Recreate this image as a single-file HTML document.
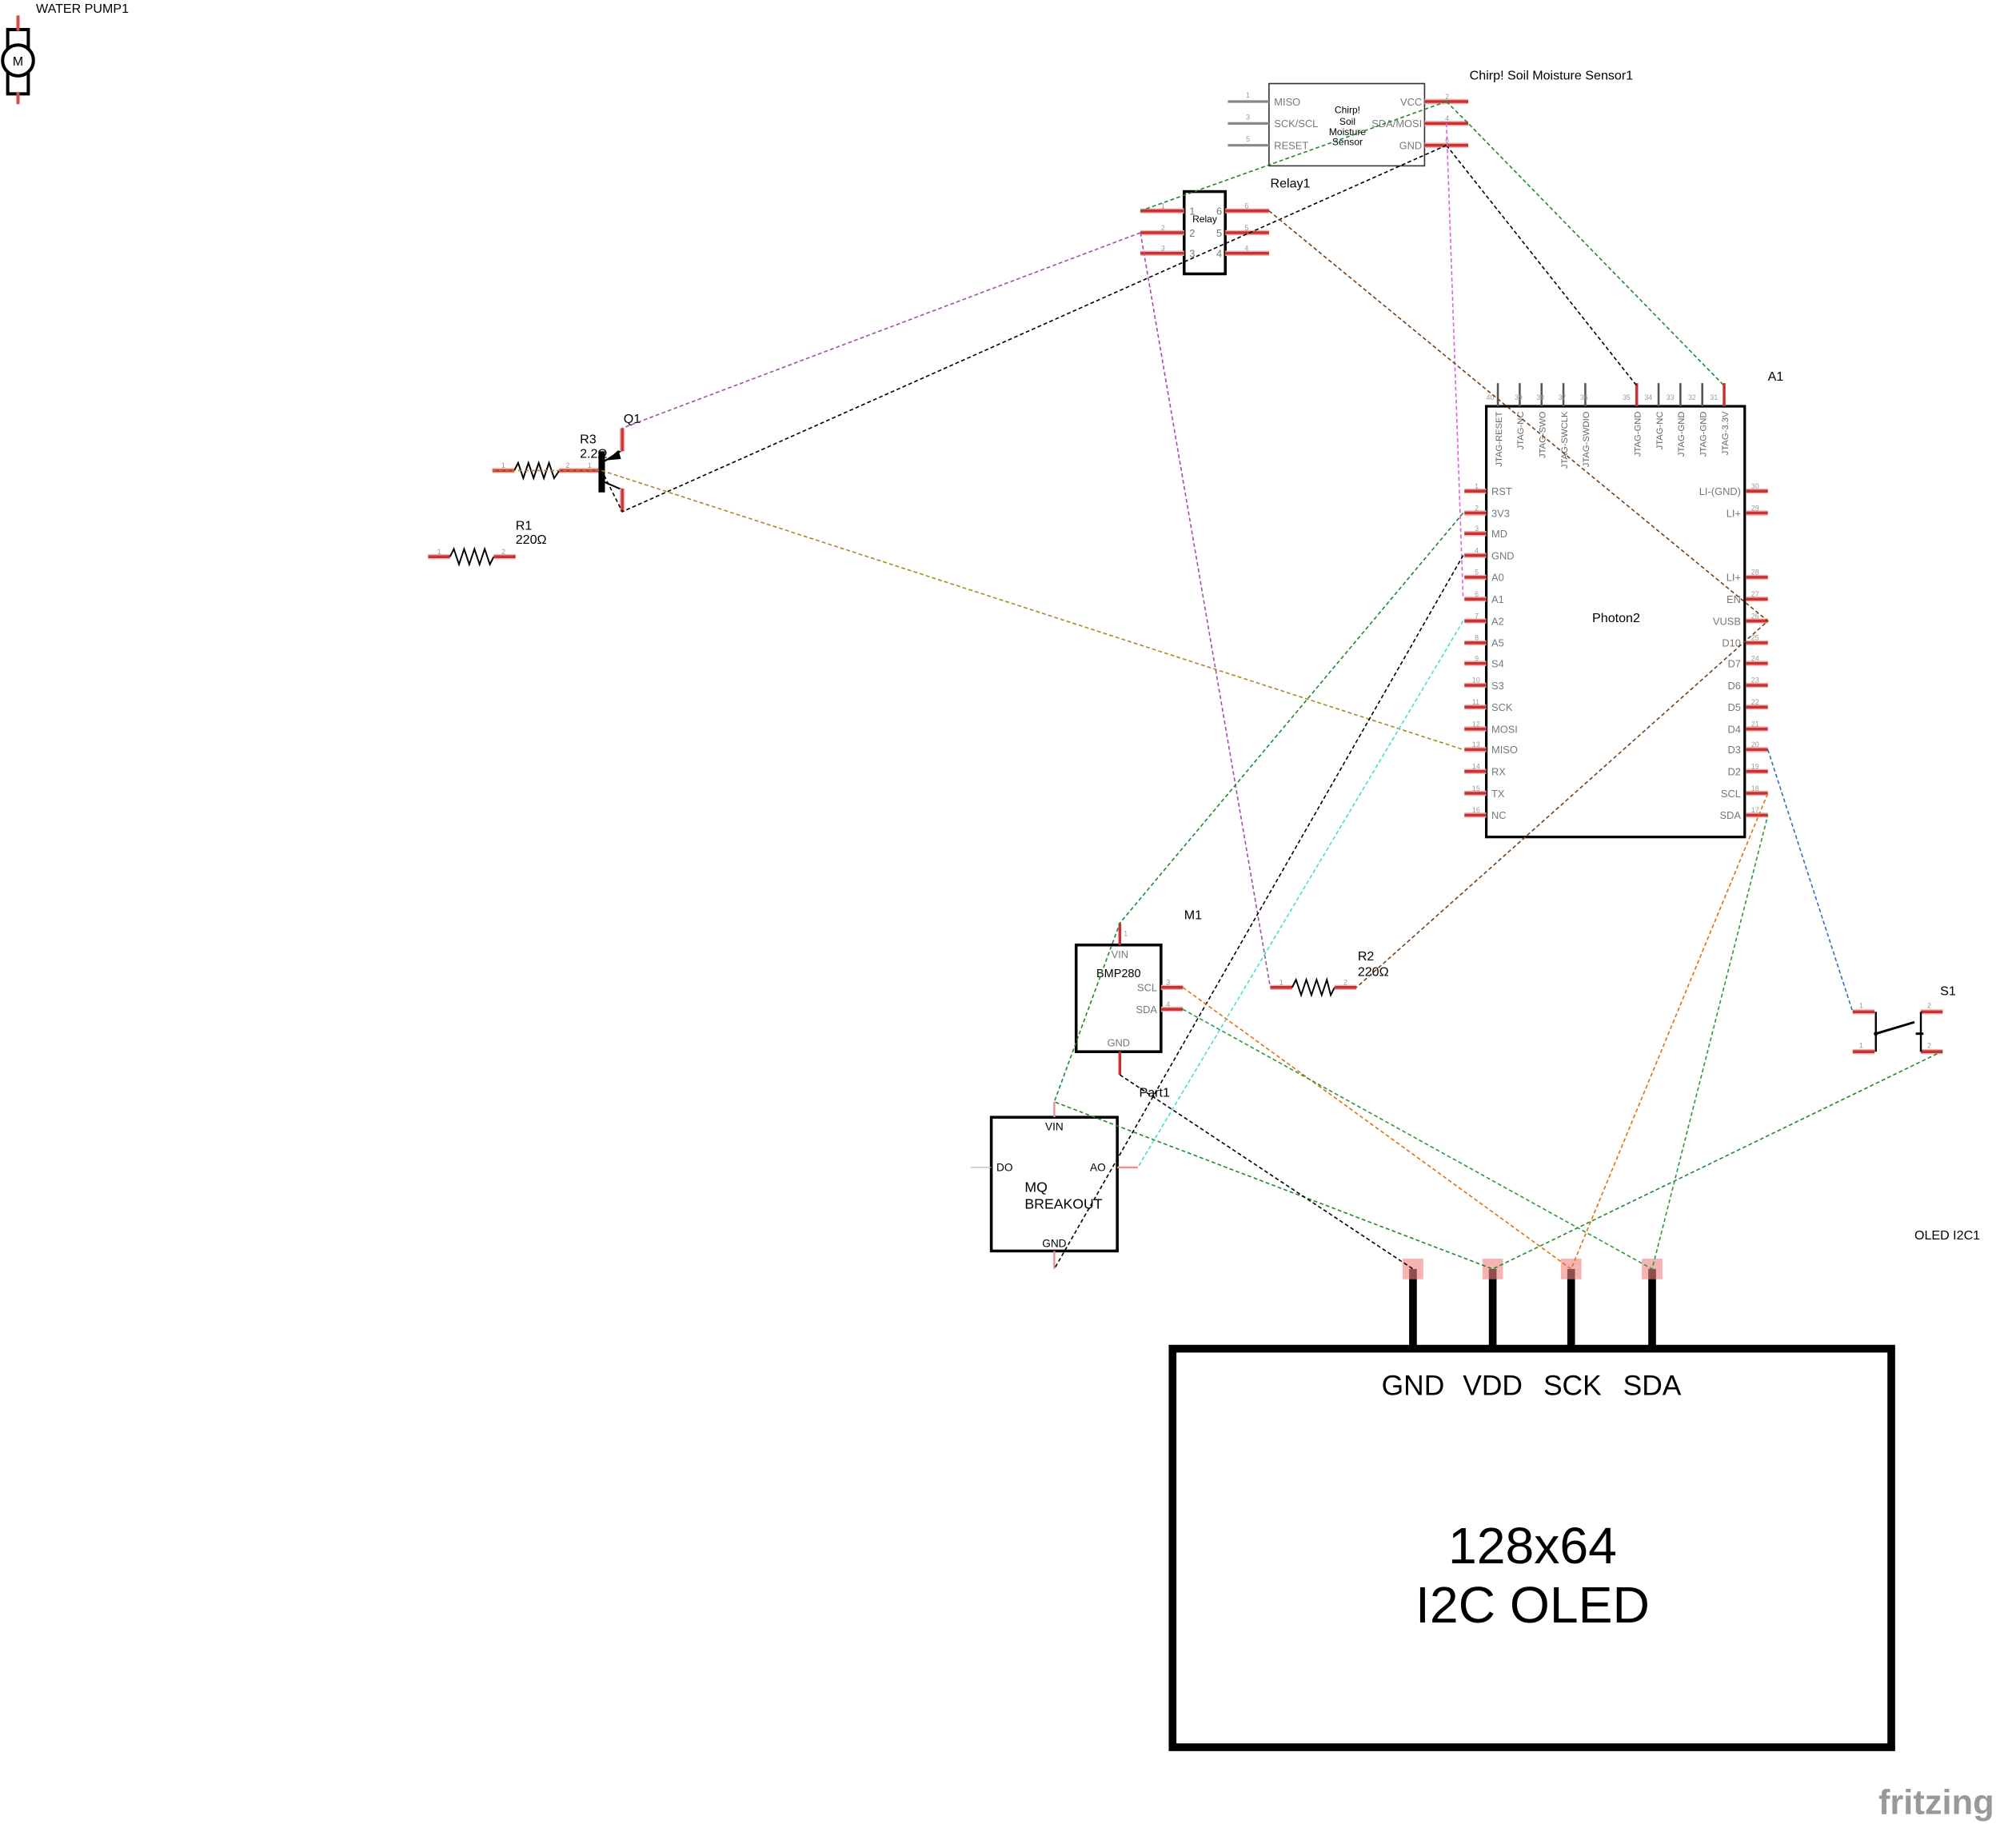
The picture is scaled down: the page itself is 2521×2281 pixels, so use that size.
<!DOCTYPE html>
<html><head><meta charset="utf-8"><style>
html,body{margin:0;padding:0;background:#fff;}
svg{display:block;}
text{font-family:"Liberation Sans",sans-serif;}
.pl{fill:#777;font-size:8px;}
.pn{fill:#999;font-size:5.5px;}
</style></head><body>
<svg width="2521" height="2281" viewBox="0 0 1568 1418.7" preserveAspectRatio="none" xmlns="http://www.w3.org/2000/svg">
<rect width="1568" height="1419" fill="#fff"/>
<defs>
<g id="rp"><line x1="0" y1="0" x2="17" y2="0" stroke="#f3b0b0" stroke-width="4"/><line x1="0" y1="0" x2="17" y2="0" stroke="#c83232" stroke-width="2.2"/></g>
</defs>

<!-- WATER PUMP -->
<text x="28" y="10" font-size="10">WATER PUMP1</text>
<rect x="6" y="23" width="16" height="50" fill="none" stroke="#000" stroke-width="2.5"/>
<circle cx="14" cy="47" r="12" fill="#fff" stroke="#000" stroke-width="2.5"/>
<text x="14" y="51" font-size="10" text-anchor="middle">M</text>
<line x1="14" y1="12" x2="14" y2="24" stroke="#d05050" stroke-width="2.5"/>
<line x1="14" y1="72" x2="14" y2="81" stroke="#d05050" stroke-width="2.5"/>

<!-- Chirp sensor -->
<text x="1143" y="62" font-size="10">Chirp! Soil Moisture Sensor1</text>
<rect x="987" y="65" width="121" height="64" fill="none" stroke="#333" stroke-width="1"/>
<g stroke="#888" stroke-width="2"><line x1="955" y1="79" x2="987" y2="79"/><line x1="955" y1="96" x2="987" y2="96"/><line x1="955" y1="113" x2="987" y2="113"/></g>
<text x="969" y="76" class="pn">1</text><text x="969" y="93" class="pn">3</text><text x="969" y="110" class="pn">5</text>
<text x="991" y="82" class="pl">MISO</text><text x="991" y="99" class="pl">SCK/SCL</text><text x="991" y="116" class="pl">RESET</text>
<text x="1106" y="82" class="pl" text-anchor="end">VCC</text><text x="1106" y="99" class="pl" text-anchor="end">SDA/MOSI</text><text x="1106" y="116" class="pl" text-anchor="end">GND</text>
<g font-size="7.5" text-anchor="middle"><text x="1048" y="88">Chirp!</text><text x="1048" y="97">Soil</text><text x="1048" y="105">Moisture</text><text x="1048" y="113">Sensor</text></g>
<use href="#rp" x="1108" y="79" transform="translate(0,0)"/>
<g transform="translate(1108,79) scale(2,1)"><use href="#rp"/></g>
<g transform="translate(1108,96) scale(2,1)"><use href="#rp"/></g>
<g transform="translate(1108,113) scale(2,1)"><use href="#rp"/></g>
<text x="1124" y="77" class="pn">2</text><text x="1124" y="94" class="pn">4</text><text x="1124" y="111" class="pn">6</text>

<!-- Relay -->
<text x="988" y="146" font-size="10">Relay1</text>
<rect x="921" y="149" width="32" height="64" fill="none" stroke="#000" stroke-width="2.2"/>
<g transform="translate(887,164) scale(2,1)"><use href="#rp"/></g>
<g transform="translate(887,181) scale(2,1)"><use href="#rp"/></g>
<g transform="translate(887,197) scale(2,1)"><use href="#rp"/></g>
<g transform="translate(953,164) scale(2,1)"><use href="#rp"/></g>
<g transform="translate(953,181) scale(2,1)"><use href="#rp"/></g>
<g transform="translate(953,197) scale(2,1)"><use href="#rp"/></g>
<text x="925" y="167" class="pl">1</text><text x="925" y="184" class="pl">2</text><text x="925" y="200" class="pl">3</text>
<text x="946" y="167" class="pl">6</text><text x="946" y="184" class="pl">5</text><text x="946" y="200" class="pl">4</text>
<text x="937" y="173" font-size="7.5" text-anchor="middle">Relay</text>
<text x="903" y="162" class="pn">1</text><text x="903" y="179" class="pn">2</text><text x="903" y="195" class="pn">3</text>
<text x="968" y="162" class="pn">6</text><text x="968" y="179" class="pn">5</text><text x="968" y="195" class="pn">4</text>

<!-- Photon2 A1 -->
<text x="1375" y="296" font-size="10">A1</text>
<rect x="1156" y="316" width="201" height="335" fill="none" stroke="#000" stroke-width="2"/>
<g stroke="#555" stroke-width="1.6">
<line x1="1165" y1="298" x2="1165" y2="316"/><line x1="1182" y1="298" x2="1182" y2="316"/><line x1="1199" y1="298" x2="1199" y2="316"/><line x1="1216" y1="298" x2="1216" y2="316"/><line x1="1233" y1="298" x2="1233" y2="316"/>
<line x1="1290" y1="298" x2="1290" y2="316"/><line x1="1307" y1="298" x2="1307" y2="316"/><line x1="1324" y1="298" x2="1324" y2="316"/></g>
<g stroke="#c83232" stroke-width="2.2"><line x1="1273" y1="298" x2="1273" y2="316"/><line x1="1341" y1="298" x2="1341" y2="316"/></g>
<g class="pn"><text x="1156" y="311">40</text><text x="1178" y="311">39</text><text x="1195" y="311">38</text><text x="1212" y="311">37</text><text x="1229" y="311">36</text><text x="1262" y="311">35</text><text x="1279" y="311">34</text><text x="1296" y="311">33</text><text x="1313" y="311">32</text><text x="1330" y="311">31</text></g>
<g font-size="7" fill="#666" text-anchor="end">
<text transform="translate(1168,320) rotate(-90)">JTAG-RESET</text>
<text transform="translate(1185,320) rotate(-90)">JTAG-NC</text>
<text transform="translate(1202,320) rotate(-90)">JTAG-SWO</text>
<text transform="translate(1219,320) rotate(-90)">JTAG-SWCLK</text>
<text transform="translate(1236,320) rotate(-90)">JTAG-SWDIO</text>
<text transform="translate(1276,320) rotate(-90)">JTAG-GND</text>
<text transform="translate(1293,320) rotate(-90)">JTAG-NC</text>
<text transform="translate(1310,320) rotate(-90)">JTAG-GND</text>
<text transform="translate(1327,320) rotate(-90)">JTAG-GND</text>
<text transform="translate(1344,320) rotate(-90)">JTAG-3.3V</text>
</g>
<!-- left pins -->
<g>
<use href="#rp" x="1139" y="382"/><use href="#rp" x="1139" y="399"/><use href="#rp" x="1139" y="415"/><use href="#rp" x="1139" y="432"/><use href="#rp" x="1139" y="449"/><use href="#rp" x="1139" y="466"/><use href="#rp" x="1139" y="483"/><use href="#rp" x="1139" y="500"/><use href="#rp" x="1139" y="516"/><use href="#rp" x="1139" y="533"/><use href="#rp" x="1139" y="550"/><use href="#rp" x="1139" y="567"/><use href="#rp" x="1139" y="583"/><use href="#rp" x="1139" y="600"/><use href="#rp" x="1139" y="617"/><use href="#rp" x="1139" y="634"/>
</g>
<g class="pl">
<text x="1160" y="385">RST</text><text x="1160" y="402">3V3</text><text x="1160" y="418">MD</text><text x="1160" y="435">GND</text><text x="1160" y="452">A0</text><text x="1160" y="469">A1</text><text x="1160" y="486">A2</text><text x="1160" y="503">A5</text><text x="1160" y="519">S4</text><text x="1160" y="536">S3</text><text x="1160" y="553">SCK</text><text x="1160" y="570">MOSI</text><text x="1160" y="586">MISO</text><text x="1160" y="603">RX</text><text x="1160" y="620">TX</text><text x="1160" y="637">NC</text>
</g>
<g class="pn">
<text x="1147" y="380">1</text><text x="1147" y="397">2</text><text x="1147" y="413">3</text><text x="1147" y="430">4</text><text x="1147" y="447">5</text><text x="1147" y="464">6</text><text x="1147" y="481">7</text><text x="1147" y="498">8</text><text x="1147" y="514">9</text><text x="1145" y="531">10</text><text x="1145" y="548">11</text><text x="1145" y="565">12</text><text x="1145" y="581">13</text><text x="1145" y="598">14</text><text x="1145" y="615">15</text><text x="1145" y="632">16</text>
</g>
<!-- right pins -->
<g>
<use href="#rp" x="1358" y="382"/><use href="#rp" x="1358" y="399"/><use href="#rp" x="1358" y="449"/><use href="#rp" x="1358" y="466"/><use href="#rp" x="1358" y="483"/><use href="#rp" x="1358" y="500"/><use href="#rp" x="1358" y="516"/><use href="#rp" x="1358" y="533"/><use href="#rp" x="1358" y="550"/><use href="#rp" x="1358" y="567"/><use href="#rp" x="1358" y="583"/><use href="#rp" x="1358" y="600"/><use href="#rp" x="1358" y="617"/><use href="#rp" x="1358" y="634"/>
</g>
<g class="pl" text-anchor="end">
<text x="1354" y="385">LI-(GND)</text><text x="1354" y="402">LI+</text><text x="1354" y="452">LI+</text><text x="1354" y="469">EN</text><text x="1354" y="486">VUSB</text><text x="1354" y="503">D10</text><text x="1354" y="519">D7</text><text x="1354" y="536">D6</text><text x="1354" y="553">D5</text><text x="1354" y="570">D4</text><text x="1354" y="586">D3</text><text x="1354" y="603">D2</text><text x="1354" y="620">SCL</text><text x="1354" y="637">SDA</text>
</g>
<g class="pn">
<text x="1362" y="380">30</text><text x="1362" y="397">29</text><text x="1362" y="447">28</text><text x="1362" y="464">27</text><text x="1362" y="481">26</text><text x="1362" y="498">25</text><text x="1362" y="514">24</text><text x="1362" y="531">23</text><text x="1362" y="548">22</text><text x="1362" y="565">21</text><text x="1362" y="581">20</text><text x="1362" y="598">19</text><text x="1362" y="615">18</text><text x="1362" y="632">17</text>
</g>
<text x="1257" y="484" font-size="10" text-anchor="middle">Photon2</text>

<!-- R3 + Q1 -->
<use href="#rp" x="383" y="366"/>
<polyline points="400,366 403,360 407,372 411,360 415,372 419,360 423,372 427,360 431,372 435,366" fill="none" stroke="#000" stroke-width="1.2"/>
<g transform="translate(435,366) scale(2,1)"><use href="#rp"/></g>
<text x="390" y="364" class="pn">1</text><text x="440" y="364" class="pn">2</text><text x="457" y="364" class="pn">1</text>
<text x="451" y="345" font-size="10">R3</text>
<text x="451" y="356" font-size="10">2.2Ω</text>
<line x1="468" y1="351" x2="468" y2="383" stroke="#000" stroke-width="5"/>
<line x1="468" y1="360" x2="484" y2="350" stroke="#000" stroke-width="1.3"/>
<polygon points="472,358 481,350 483,357" fill="#000"/>
<line x1="468" y1="374" x2="484" y2="381" stroke="#000" stroke-width="1.3"/>
<line x1="484" y1="333" x2="484" y2="351" stroke="#f3b0b0" stroke-width="4"/><line x1="484" y1="333" x2="484" y2="351" stroke="#c83232" stroke-width="2"/>
<line x1="484" y1="380" x2="484" y2="398" stroke="#f3b0b0" stroke-width="4"/><line x1="484" y1="380" x2="484" y2="398" stroke="#c83232" stroke-width="2"/>
<text x="485" y="329" font-size="10">Q1</text>

<!-- R1 -->
<use href="#rp" x="333" y="433"/>
<polyline points="350,433 353,427 357,439 361,427 365,439 369,427 373,439 377,427 381,439 384,433" fill="none" stroke="#000" stroke-width="1.2"/>
<use href="#rp" x="384" y="433"/>
<text x="340" y="431" class="pn">1</text><text x="390" y="431" class="pn">2</text>
<text x="401" y="412" font-size="10">R1</text><text x="401" y="423" font-size="10">220Ω</text>

<!-- R2 -->
<use href="#rp" x="988" y="768"/>
<polyline points="1005,768 1008,762 1012,774 1016,762 1020,774 1024,762 1028,774 1032,762 1035,774 1038,768" fill="none" stroke="#000" stroke-width="1.2"/>
<use href="#rp" x="1038" y="768"/>
<text x="995" y="766" class="pn">1</text><text x="1045" y="766" class="pn">2</text>
<text x="1056" y="747" font-size="10">R2</text><text x="1056" y="759" font-size="10">220Ω</text>

<!-- BMP280 M1 -->
<text x="921" y="715" font-size="10">M1</text>
<rect x="837" y="735" width="66" height="83" fill="none" stroke="#000" stroke-width="2.2"/>
<line x1="871" y1="718" x2="871" y2="735" stroke="#c83232" stroke-width="2.2"/>
<line x1="871" y1="818" x2="871" y2="836" stroke="#c83232" stroke-width="2.2"/>
<use href="#rp" x="903" y="768"/><use href="#rp" x="903" y="785"/>
<text x="871" y="745" class="pl" text-anchor="middle">VIN</text>
<text x="870" y="760" font-size="9" text-anchor="middle">BMP280</text>
<text x="900" y="771" class="pl" text-anchor="end">SCL</text>
<text x="900" y="788" class="pl" text-anchor="end">SDA</text>
<text x="870" y="814" class="pl" text-anchor="middle">GND</text>
<text x="874" y="728" class="pn">1</text><text x="907" y="766" class="pn">3</text><text x="907" y="783" class="pn">4</text>

<!-- MQ Part1 -->
<text x="886" y="853" font-size="10">Part1</text>
<rect x="771" y="869" width="98" height="104" fill="none" stroke="#000" stroke-width="2.2"/>
<line x1="820" y1="857" x2="820" y2="869" stroke="#f09090" stroke-width="1.5"/>
<line x1="820" y1="973" x2="820" y2="987" stroke="#f09090" stroke-width="1.5"/>
<line x1="869" y1="908" x2="885" y2="908" stroke="#f09090" stroke-width="1.5"/>
<line x1="755" y1="908" x2="771" y2="908" stroke="#bbb" stroke-width="0.8"/>
<text x="820" y="879" font-size="8.5" text-anchor="middle">VIN</text>
<text x="775" y="911" font-size="8.5">DO</text>
<text x="860" y="911" font-size="8.5" text-anchor="end">AO</text>
<text x="797" y="927" font-size="11">MQ</text>
<text x="797" y="940" font-size="11">BREAKOUT</text>
<text x="820" y="970" font-size="8.5" text-anchor="middle">GND</text>

<!-- S1 -->
<text x="1509" y="774" font-size="10">S1</text>
<use href="#rp" x="1441" y="787"/><use href="#rp" x="1441" y="818"/>
<use href="#rp" x="1494" y="787"/><use href="#rp" x="1494" y="818"/>
<line x1="1459" y1="787" x2="1459" y2="818" stroke="#000" stroke-width="1.5"/>
<line x1="1494" y1="787" x2="1494" y2="818" stroke="#000" stroke-width="1.5"/>
<line x1="1459" y1="804" x2="1489" y2="795" stroke="#000" stroke-width="1.8"/>
<circle cx="1459" cy="804" r="1.6"/><line x1="1490" y1="804" x2="1496" y2="804" stroke="#000" stroke-width="1.8"/>
<text x="1446" y="784" class="pn">1</text><text x="1446" y="815" class="pn">1</text><text x="1499" y="784" class="pn">2</text><text x="1499" y="815" class="pn">2</text>
<text x="1489" y="964" font-size="10">OLED I2C1</text>

<!-- OLED -->
<rect x="912" y="1049" width="559" height="310" fill="none" stroke="#000" stroke-width="6"/>
<g stroke="#000" stroke-width="6"><line x1="1099" y1="987" x2="1099" y2="1049"/><line x1="1161" y1="987" x2="1161" y2="1049"/><line x1="1222" y1="987" x2="1222" y2="1049"/><line x1="1285" y1="987" x2="1285" y2="1049"/></g>
<g fill="#f08080" fill-opacity="0.6"><rect x="1091" y="979" width="16" height="16"/><rect x="1153" y="979" width="16" height="16"/><rect x="1214" y="979" width="16" height="16"/><rect x="1277" y="979" width="16" height="16"/></g>
<g font-size="22" text-anchor="middle"><text x="1099" y="1085">GND</text><text x="1161" y="1085">VDD</text><text x="1223" y="1085">SCK</text><text x="1285" y="1085">SDA</text></g>
<text x="1192" y="1216" font-size="40" text-anchor="middle">128x64</text>
<text x="1192" y="1262" font-size="40" text-anchor="middle">I2C OLED</text>
<text x="1461" y="1411" font-size="27" fill="#999" font-weight="bold">fritzing</text>

<!-- Wires -->
<g fill="none" stroke-width="1" stroke-dasharray="3,2">
<path d="M1125,79 L887,164" stroke="#1e8a2e"/>
<path d="M1125,79 L1142,96 L1341,300" stroke="#1e8a2e"/>
<path d="M1125,113 L484,398 L468,366" stroke="#000"/>
<path d="M1125,113 L1273,300" stroke="#000"/>
<path d="M1125,96 L1138,466" stroke="#e060e0"/>
<path d="M887,181 L484,333" stroke="#a050a8"/>
<path d="M887,181 L988,768" stroke="#a050a8"/>
<path d="M987,164 L1375,483 L1055,768" stroke="#7a3f10"/>
<path d="M383,366 L468,366 L1138,583" stroke="#a88a20"/>
<path d="M1138,399 L871,718 L820,857 L1161,987 L1510,818" stroke="#1e8a2e"/>
<path d="M1138,432 L820,987" stroke="#000"/>
<path d="M871,836 L1099,987" stroke="#000"/>
<path d="M1138,483 L885,908" stroke="#40e0d0"/>
<path d="M920,768 L1222,987 L1375,617" stroke="#e07010"/>
<path d="M920,785 L1285,987 L1375,634" stroke="#2a9a3a"/>
<path d="M1375,583 L1441,787" stroke="#3070c0"/>
</g>
</svg>
</body></html>
